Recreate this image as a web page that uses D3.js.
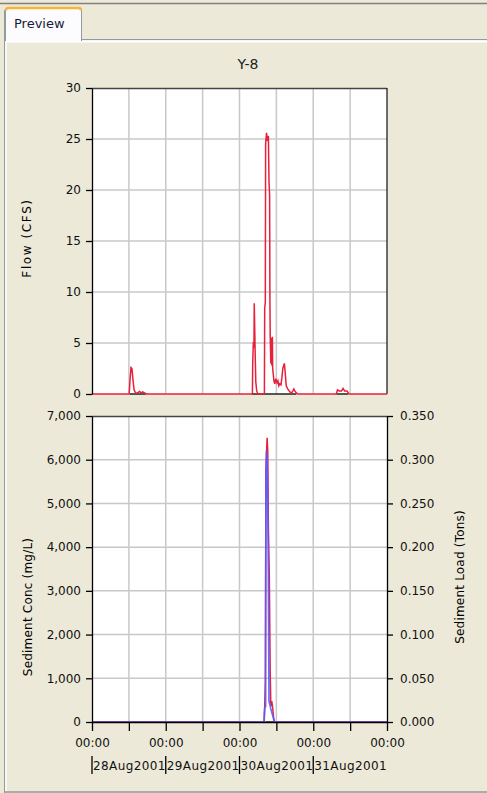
<!DOCTYPE html>
<html>
<head>
<meta charset="utf-8">
<script src="https://cdn.jsdelivr.net/npm/d3@7"></script>
<style>
  body { margin: 0; background: #ECE9D8; }
  text { font-family: "DejaVu Sans", Verdana, sans-serif; fill: #000; }
</style>
</head>
<body>
<div id="chart"></div>
<script>
// flow event hydrograph, hours after 28Aug2001 00:00
const flowHours = [0, 12.1, 12.4, 12.7, 13.0, 13.4, 13.7, 14.2, 14.8, 15.5, 16.0, 16.5, 17.1, 17.8,
  52.2, 52.3, 52.5, 52.7, 52.8, 53.1, 53.3, 53.6, 54.0,
  56.1, 56.2, 56.4, 56.5, 56.8, 57.1, 57.4, 57.6, 57.8, 57.9, 58.0, 58.2, 58.4, 58.5, 58.7, 58.8,
  59.2, 59.5, 59.8, 60.2, 60.5, 60.8, 61.1, 61.5, 61.8, 62.1, 62.6, 62.9, 63.2, 63.7, 64.4, 65.0,
  65.7, 66.0, 66.5, 67.0, 79.5, 79.9, 80.5, 81.2, 81.7, 82.2, 83.0, 83.6, 96];
const flowCfs = [0, 0, 1.5, 2.6, 2.5, 1.2, 0.4, 0.1, 0.1, 0.25, 0.1, 0.2, 0.1, 0,
  0, 3.0, 5.1, 4.5, 8.9, 4.0, 1.2, 0.3, 0,
  0, 8.4, 9.0, 24.5, 25.6, 24.8, 25.3, 20.8, 19.5, 9.2, 5.6, 3.0, 5.5, 2.8, 5.6, 2.5,
  1.3, 1.0, 1.5, 1.1, 1.3, 0.8, 1.0, 0.9, 1.6, 2.5, 3.0, 2.0, 0.8, 0.5, 0.2, 0.1,
  0.5, 0.3, 0.1, 0, 0, 0.4, 0.3, 0.3, 0.55, 0.3, 0.3, 0, 0];

// sediment concentration (mg/L)
const concHours = [0, 56.0, 56.2, 56.4, 56.6, 56.8, 57.0, 57.2, 57.4, 57.7, 58.0, 58.2, 58.5, 58.8, 59.1, 59.3, 96];
const concMgL = [0, 0, 340, 935, 5730, 6190, 6500, 6190, 4440, 3370, 1090, 365, 480, 320, 100, 0, 0];

// sediment load (tons)
const loadHours = [0, 56.0, 56.2, 56.5, 56.6, 56.8, 57.0, 57.2, 57.4, 57.6, 57.9, 58.2, 58.6, 59.0, 59.3, 96];
const loadTons = [0, 0, 0.016, 0.018, 0.28, 0.31, 0.30, 0.25, 0.17, 0.024, 0.02, 0.015, 0.01, 0.005, 0, 0];

// sampled periods drawn along the zero line
const sampleSpans = [[12.3, 17.5], [52.0, 66.5], [79.6, 83.3]];
const sampleSpansLow = [[56.4, 59.0]];

const flowTicks = [0, 5, 10, 15, 20, 25, 30];
const concTicks = [0, 1000, 2000, 3000, 4000, 5000, 6000, 7000];
const loadTicks = [0, 0.05, 0.1, 0.15, 0.2, 0.25, 0.3, 0.35];
const dayLabels = ["28Aug2001", "29Aug2001", "30Aug2001", "31Aug2001"];

const W = 487, H = 793;
const left = 92, right = 387;
const top1 = 88, bot1 = 394;
const top2 = 416, bot2 = 722;
const RED = "#E8203C", BLUE = "#5a5aff", GRID = "#c8c8c8";

const t0 = new Date(2001, 7, 28);
const toDate = h => new Date(t0.getTime() + h * 3600e3);

const svg = d3.select("#chart").append("svg")
  .attr("width", W).attr("height", H);

// window frame + tab
svg.append("rect").attr("width", W).attr("height", H).attr("fill", "#ECE9D8");
svg.append("line").attr("x1", 0).attr("x2", W).attr("y1", 3.5).attr("y2", 3.5)
  .attr("stroke", "#808080").attr("stroke-width", 1.5);
svg.append("line").attr("x1", 82).attr("x2", W).attr("y1", 39.5).attr("y2", 39.5)
  .attr("stroke", "#919b9c");
svg.append("line").attr("x1", 5).attr("x2", W).attr("y1", 41.5).attr("y2", 41.5)
  .attr("stroke", "#fff").attr("stroke-width", 2);
svg.append("line").attr("x1", 4.5).attr("x2", 4.5).attr("y1", 10).attr("y2", H)
  .attr("stroke", "#919b9c");
svg.append("line").attr("x1", 6).attr("x2", 6).attr("y1", 40).attr("y2", H - 2)
  .attr("stroke", "#fff").attr("stroke-width", 1.5);
svg.append("line").attr("x1", 4).attr("x2", W).attr("y1", H - 1).attr("y2", H - 1)
  .attr("stroke", "#919b9c").attr("stroke-width", 1.5);
svg.append("path")
  .attr("d", "M5.5,41 L5.5,10 Q5.5,7.5 8,7.5 L79,7.5 Q81.5,7.5 81.5,10 L81.5,41")
  .attr("fill", "#fcfcfe").attr("stroke", "#919b9c");
svg.append("path")
  .attr("d", "M6,10.5 Q6,8 8.5,8 L78.5,8 Q81,8 81,10.5")
  .attr("fill", "none").attr("stroke", "#f7b53a").attr("stroke-width", 2.5);
svg.append("text").attr("x", 14).attr("y", 28).style("font-size", "13px")
  .style("fill", "#1a1a3a").text("Preview");

svg.append("text").attr("x", 248).attr("y", 69).attr("text-anchor", "middle")
  .style("font-size", "14px").style("fill", "#222").text("Y-8");

// scales
const x = d3.scaleTime().domain([toDate(0), toDate(96)]).range([left, right]);
const yFlow = d3.scaleLinear().domain([0, 30]).range([bot1, top1]);
const yConc = d3.scaleLinear().domain([0, 7000]).range([bot2, top2]);
const yLoad = d3.scaleLinear().domain([0, 0.35]).range([bot2, top2]);
const gridTimes = d3.range(12, 96, 12).map(toDate);

function panel(y0, y1, yScale, ticks) {
  const g = svg.append("g");
  g.append("rect").attr("x", left).attr("y", y0).attr("width", right - left)
    .attr("height", y1 - y0).attr("fill", "#fff");
  g.selectAll(".vg").data(gridTimes).enter().append("line")
    .attr("x1", d => x(d)).attr("x2", d => x(d)).attr("y1", y0).attr("y2", y1)
    .attr("stroke", GRID).attr("stroke-width", 1.5);
  g.selectAll(".hg").data(ticks.slice(1, -1)).enter().append("line")
    .attr("x1", left).attr("x2", right).attr("y1", d => yScale(d)).attr("y2", d => yScale(d))
    .attr("stroke", GRID).attr("stroke-width", 1.5);
  return g;
}

function styleAxis(g) {
  g.selectAll("path, line").attr("stroke", "#000").attr("stroke-width", 1.3);
  g.selectAll("text").style("font-size", "12px").style("fill", "#111").attr("font-family", null);
}

const line = (hours, vals, yScale) => d3.line()
  .x((d, i) => x(toDate(hours[i]))).y(d => yScale(d))(vals);

// ---- top panel: flow
panel(top1, bot1, yFlow, flowTicks);
svg.append("line").attr("x1", left).attr("x2", right).attr("y1", top1 + 0.5).attr("y2", top1 + 0.5)
  .attr("stroke", "#444").attr("stroke-width", 1.3);
svg.append("line").attr("x1", right).attr("x2", right).attr("y1", top1).attr("y2", bot1)
  .attr("stroke", "#222").attr("stroke-width", 1.3);
sampleSpans.forEach(s => {
  svg.append("line").attr("x1", x(toDate(s[0]))).attr("x2", x(toDate(s[1])))
    .attr("y1", bot1).attr("y2", bot1).attr("stroke", "#222").attr("stroke-width", 1.5);
});
svg.append("path").attr("d", line(flowHours, flowCfs, yFlow))
  .attr("fill", "none").attr("stroke", RED).attr("stroke-width", 1.5);
svg.append("g").attr("transform", `translate(${left},0)`)
  .call(d3.axisLeft(yFlow).tickValues(flowTicks).tickSize(6).tickPadding(5).tickSizeOuter(0))
  .call(styleAxis);
svg.append("text").attr("transform", `translate(31,238) rotate(-90)`)
  .attr("text-anchor", "middle").style("font-size", "12px").style("letter-spacing", "1.6px")
  .text("Flow (CFS)");

// ---- bottom panel: sediment
panel(top2, bot2, yConc, concTicks);
svg.append("line").attr("x1", left).attr("x2", right).attr("y1", top2 + 0.5).attr("y2", top2 + 0.5)
  .attr("stroke", "#444").attr("stroke-width", 1.3);
svg.append("path").attr("d", line(concHours, concMgL, yConc))
  .attr("fill", "none").attr("stroke", RED).attr("stroke-width", 1.5);
svg.append("path").attr("d", line(loadHours, loadTons, yLoad))
  .attr("fill", "none").attr("stroke", BLUE).attr("stroke-width", 1.7).attr("stroke-opacity", 0.9);
sampleSpansLow.forEach(s => {
  svg.append("line").attr("x1", x(toDate(s[0]))).attr("x2", x(toDate(s[1])))
    .attr("y1", bot2).attr("y2", bot2).attr("stroke", "#222").attr("stroke-width", 1.5);
});
svg.append("g").attr("transform", `translate(${left},0)`)
  .call(d3.axisLeft(yConc).tickValues(concTicks).tickSize(6).tickPadding(5)
    .tickSizeOuter(0).tickFormat(d3.format(",")))
  .call(styleAxis);
svg.append("g").attr("transform", `translate(${right},0)`)
  .call(d3.axisRight(yLoad).tickValues(loadTicks).tickSize(6).tickPadding(7)
    .tickSizeOuter(0).tickFormat(d3.format(".3f")))
  .call(styleAxis);
svg.append("text").attr("transform", `translate(32,607) rotate(-90)`)
  .attr("text-anchor", "middle").style("font-size", "12px").style("letter-spacing", "0.2px")
  .text("Sediment Conc (mg/L)");
svg.append("text").attr("transform", `translate(464,577) rotate(-90)`)
  .attr("text-anchor", "middle").style("font-size", "12px").style("letter-spacing", "0.2px")
  .text("Sediment Load (Tons)");

// ---- time axis
const xAxis = svg.append("g").attr("transform", `translate(0,${bot2})`)
  .call(d3.axisBottom(x).tickValues(d3.range(0, 97, 12).map(toDate)).tickSize(9)
    .tickPadding(7).tickSizeOuter(0)
    .tickFormat(d => d.getHours() === 0 ? d3.timeFormat("%H:%M")(d) : ""))
  .call(styleAxis);

const days = svg.append("g");
dayLabels.forEach((lab, i) => {
  const xd = x(toDate(i * 24));
  days.append("line").attr("x1", xd).attr("x2", xd).attr("y1", 756).attr("y2", 774)
    .attr("stroke", "#000").attr("stroke-width", 1.3);
  days.append("text").attr("x", xd + 1).attr("y", 770).style("font-size", "12px")
    .style("fill", "#111").style("letter-spacing", "0.4px").text(lab);
});
</script>
</body>
</html>
